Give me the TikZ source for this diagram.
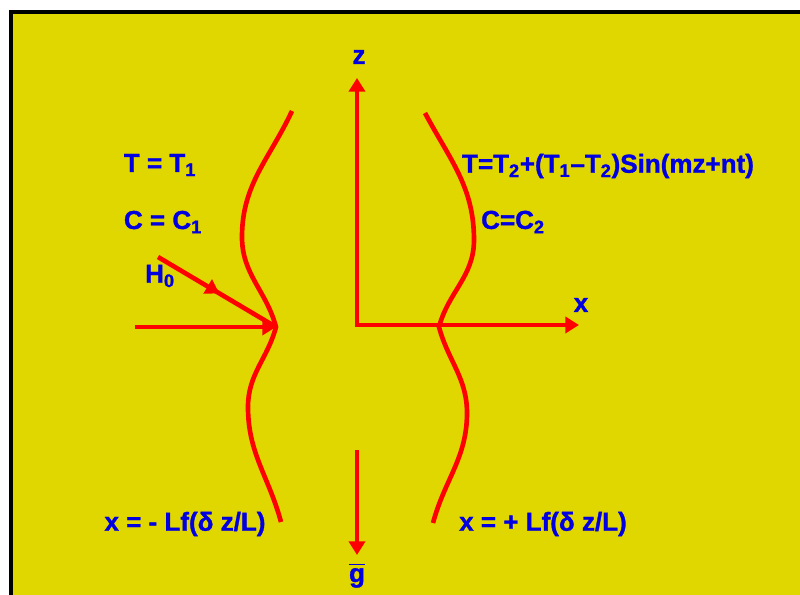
\documentclass[tikz,border=0pt]{standalone}
\usepackage{amsmath}
\usepackage{fontspec}
\setmainfont{Liberation Sans}[BoldFeatures={FakeBold=1.2}]
\usetikzlibrary{positioning,arrows.meta,decorations.markings}
\definecolor{slideyellow}{RGB}{224,214,0}
\definecolor{wallred}{RGB}{255,0,0}
\definecolor{labelblue}{RGB}{0,0,225}

\begin{document}
\begin{tikzpicture}[
  >={Triangle[length=0.34cm,width=0.4cm]},
  lbl/.style={font=\fontsize{18.5}{21}\selectfont\bfseries,text=labelblue,inner sep=0pt},
  wall/.style={wallred,line width=3.3pt},
  ray/.style={wallred,line width=3.3pt},
  midarrow/.style={ray,postaction={decorate},decoration={markings,mark=at position 0.52 with {\arrow{>}}}},
]

% === FRAME ===
\clip (-8.925,-6.75) rectangle (11.075,8.125);
\fill[white] (-8.925,-6.75) rectangle (11.075,8.125);
\fill[slideyellow] (-8.66,-7) rectangle (11.2,7.825);
\draw[line width=0.1cm] (-8.66,-7) -- (-8.66,7.825) -- (11.2,7.825);

% === AXES ===
\coordinate (O) at (0,0);
\coordinate (ztip) at (0,6.175);
\coordinate (xtip) at (5.55,0);
\node[lbl] (zlab) at (0.05,6.7) {z};
\node[lbl] (xlab) at (5.6,0.5) {x};
\draw[ray,<->] (ztip) -- (O) -- (xtip);

% gravity
\coordinate (gtop) at (0,-3.125);
\coordinate (gtip) at (0,-5.75);
\node[lbl,anchor=north] (glab) at (0,-5.95) {$\overline{\text{g}}$};
\draw[ray,->] (gtop) -- (gtip);

% === WALLS ===
\coordinate (tip) at (-2.025,-0.05);
\draw[wall] (-1.625,5.35) to[out=245,in=90] (-2.875,2.2) to[out=270,in=105] (tip)
  to[out=255,in=90] (-2.725,-2.05) to[out=270,in=105] (-1.9,-4.925);
\draw[wall] (1.7,5.3) to[out=-62,in=90] (2.925,2.125) to[out=270,in=75] (2.05,-0.05)
  to[out=285,in=90] (2.75,-2.2) to[out=270,in=75] (1.9,-4.95);

% === INCIDENT FLOW ===
\coordinate (hstart) at (-4.975,1.7);
\coordinate (flow) at (-5.55,-0.05);
\node[lbl] (H0) at (-4.925,1.225) {H\textsubscript{0}};
\draw[midarrow] (hstart) -- (tip);
\draw[ray,->] (flow) -- (tip);

% === CONDITIONS ===
\node[lbl] (T1) at (-4.925,4.0) {T = T\textsubscript{1}};
\node[lbl] (C1) at (-4.85,2.575) {C = C\textsubscript{1}};
\node[lbl] (T2) at (6.275,3.975) {T=T\textsubscript{2}+(T\textsubscript{1}--T\textsubscript{2})Sin(mz+nt)};
\node[lbl] (C2) at (3.9,2.575) {C=C\textsubscript{2}};
\node[lbl] (xleft) at (-4.3,-4.975) {x = - Lf(δ z/L)};
\node[lbl] (xright) at (4.65,-4.975) {x = + Lf(δ z/L)};

\end{tikzpicture}
\end{document}
